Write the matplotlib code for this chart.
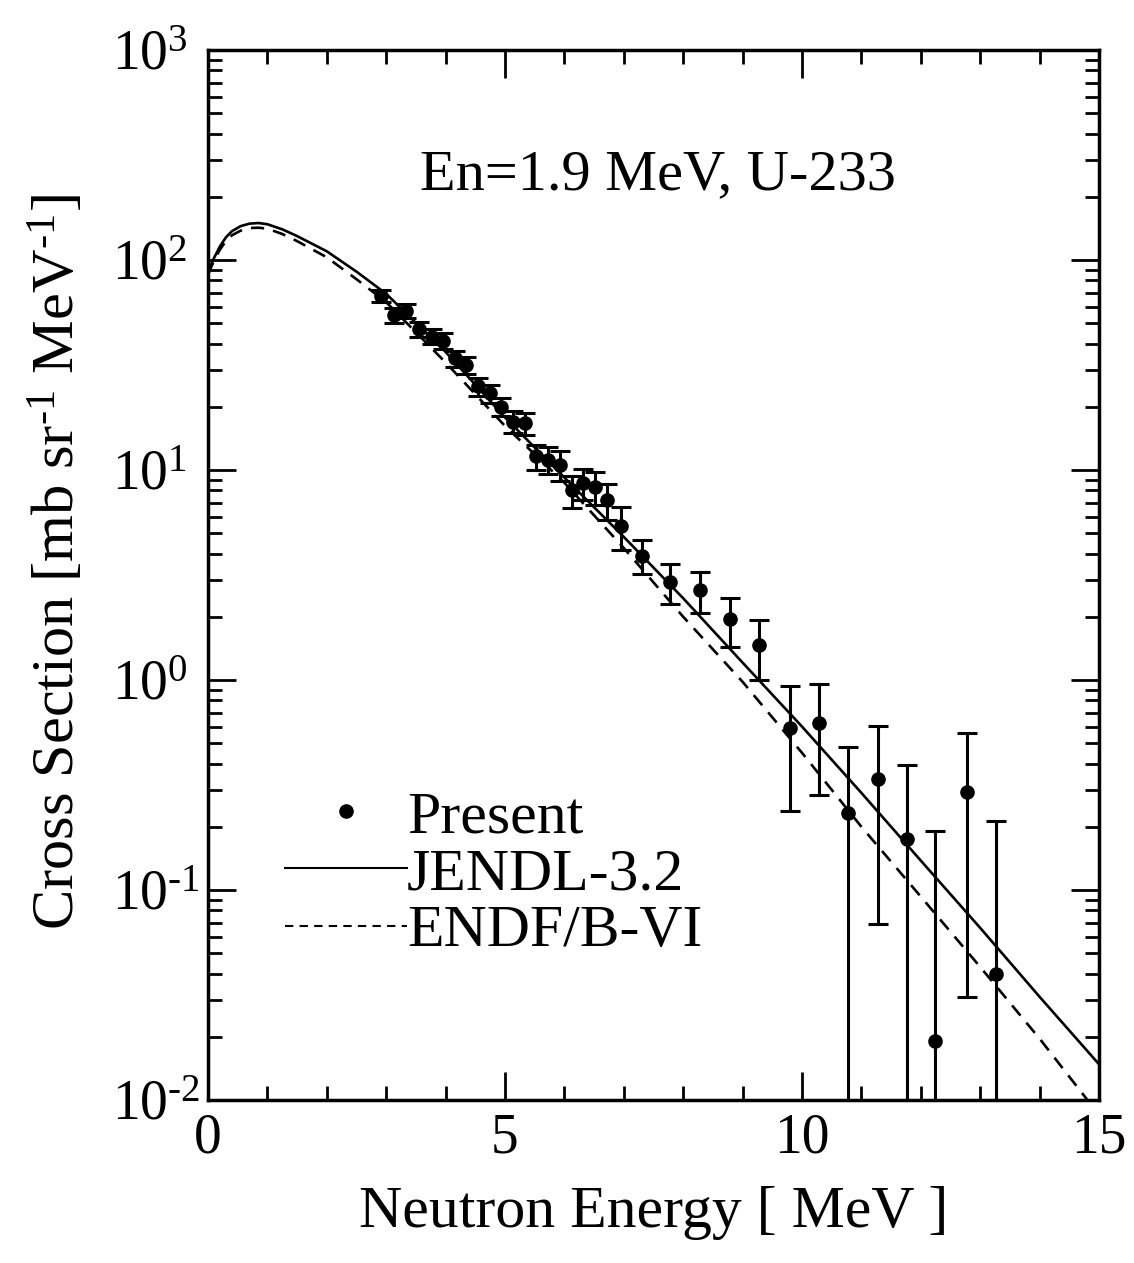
import numpy as np
import matplotlib
matplotlib.use("Agg")
from matplotlib import pyplot as plt
from matplotlib.lines import Line2D
from matplotlib.ticker import FixedLocator, LogLocator, FuncFormatter, NullFormatter

plt.rcParams['font.family'] = ['Liberation Serif', 'DejaVu Serif']
plt.rcParams['mathtext.fontset'] = 'custom'
plt.rcParams['mathtext.rm'] = 'Liberation Serif'
plt.rcParams['mathtext.it'] = 'Liberation Serif:italic'

# measured points (Present)
energy = [2.92, 3.13, 3.34, 3.56, 3.77, 3.96, 4.16, 4.35, 4.55, 4.75, 4.94, 5.14,
          5.34, 5.53, 5.73, 5.93, 6.12, 6.32, 6.52, 6.72, 6.96, 7.31, 7.78, 8.28,
          8.79, 9.28, 9.79, 10.29, 10.78, 11.28, 11.76, 12.24, 12.77, 13.27]
xsec = [67.5, 54.7, 57.4, 46.8, 43.2, 41.3, 34.0, 31.6, 25.0, 23.2, 20.0, 17.0,
        16.7, 11.6, 11.2, 10.6, 8.0, 8.65, 8.3, 7.2, 5.4, 3.9, 2.94, 2.68,
        1.95, 1.47, 0.589, 0.622, 0.232, 0.337, 0.175, 0.019, 0.294, 0.040]
xsec_err = [4.5, 4.5, 4.5, 4.0, 3.5, 3.5, 3.0, 3.0, 2.5, 2.3, 2.0, 2.0,
            2.0, 1.6, 1.6, 1.7, 1.4, 1.45, 1.5, 1.4, 1.25, 0.72, 0.63, 0.6,
            0.52, 0.47, 0.35, 0.34, 0.246, 0.268, 0.218, 0.172, 0.263, 0.174]

# evaluated spectra
e_curve = [0.0, 0.05, 0.1, 0.2, 0.3, 0.4, 0.55, 0.7, 0.85, 1.0, 1.25, 1.5, 2.0,
           2.5, 3.0, 4.0, 5.0, 6.0, 7.0, 8.0, 9.0, 10.0, 11.0, 12.0, 13.0, 14.0, 15.0]
jendl = [85, 95, 102, 116, 128, 137, 145, 149, 150, 148, 140, 130, 110,
         88, 69, 36.5, 17.8, 9.2, 4.8, 2.45, 1.21, 0.60, 0.29, 0.138, 0.066, 0.031, 0.0148]
endf = [85, 92, 99, 112, 123, 131, 138, 142, 142.5, 141, 133, 123, 103,
        81, 63, 32.5, 16.2, 8.7, 4.25, 2.0, 0.98, 0.45, 0.20, 0.093, 0.043, 0.0196, 0.0085]

HY = '\u2010'


def exp_label(v, pos):
    n = int(round(np.log10(v)))
    s = (HY + str(-n)) if n < 0 else str(n)
    return r'$\mathregular{10^{%s}}$' % s


fig = plt.figure(figsize=(11.34, 12.63), dpi=100)
ax = fig.add_axes([208/1134, 1 - 1100/1263, 891/1134, 1050/1263])

ax.plot(e_curve, jendl, color='black', lw=1.9)
ax.plot(e_curve, endf, color='black', lw=1.9, dashes=(5, 3.5))
ax.errorbar(energy, xsec, yerr=xsec_err, fmt='o', color='black', ms=9.5,
            elinewidth=2.2, capsize=7, capthick=2.2)

ax.set_yscale('log', nonpositive='clip')
ax.set_xlim(0, 15)
ax.set_ylim(1e-2, 1e3)

ax.xaxis.set_major_locator(FixedLocator([0, 5, 10, 15]))
ax.xaxis.set_minor_locator(FixedLocator(np.arange(0, 16, 1)))
ax.yaxis.set_major_locator(FixedLocator([1e-2, 1e-1, 1e0, 1e1, 1e2, 1e3]))
ax.yaxis.set_minor_locator(LogLocator(base=10, subs=np.arange(2, 10), numticks=20))
ax.yaxis.set_minor_formatter(NullFormatter())
ax.yaxis.set_major_formatter(FuncFormatter(exp_label))

ax.tick_params(which='both', direction='in', top=True, right=True, width=2)
ax.tick_params(which='major', length=20)
ax.tick_params(which='minor', length=10)
ax.tick_params(axis='x', pad=9, labelsize=40)
ax.tick_params(axis='y', pad=69, labelsize=40)
for lab in ax.get_yticklabels():
    lab.set_horizontalalignment('left')
for s in ax.spines.values():
    s.set_linewidth(2.5)

ax.set_xlabel('Neutron Energy [ MeV ]', fontsize=43)
ax.xaxis.set_label_coords(0.5, -0.082)
ax.set_ylabel(r'Cross Section [mb sr$\mathregular{^{%s1}}$ MeV$\mathregular{^{%s1}}$]' % (HY, HY),
              fontsize=43.5)
ax.yaxis.set_label_coords(-0.136, 0.512)

ax.text(0.505, 0.881, 'En=1.9 MeV, U-233', transform=ax.transAxes, fontsize=42,
        ha='center', va='center')

handles = [Line2D([], [], marker='o', ls='none', color='black', ms=9.5),
           Line2D([], [], color='black', lw=1.5),
           Line2D([], [], color='black', lw=1.5, dashes=(4, 3))]
ax.legend(handles, ['Present', 'JENDL-3.2', 'ENDF/B-VI'], loc='upper left',
          bbox_to_anchor=(0.086, 0.295), frameon=False, fontsize=43,
          handlelength=2.05, handletextpad=0.0, labelspacing=0.04, borderpad=0,
          borderaxespad=0)

fig.savefig('out.png', dpi=100)
